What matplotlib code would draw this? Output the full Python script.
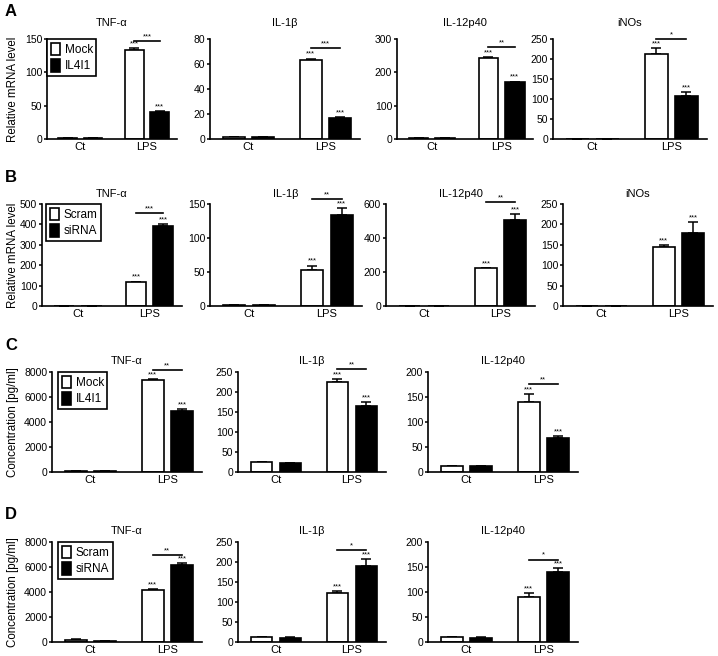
import matplotlib
matplotlib.use("Agg")
from matplotlib import pyplot as plt
from matplotlib.patches import Patch

plt.rcParams['font.family'] = ['Liberation Sans', 'DejaVu Sans']

groups = ["Ct", "LPS"]

# row A: Mock vs IL4I1, relative mRNA
a_titles = ["TNF-α", "IL-1β", "IL-12p40", "iNOs"]
a_white = [[1, 133], [1.5, 63], [2, 243], [1, 212]]
a_white_err = [[0, 3.5], [0, 1.4], [0, 3], [0, 15]]
a_black = [[1, 40.5], [1.5, 17], [2, 170.5], [1, 108.5]]
a_black_err = [[0, 1], [0, 0.4], [0, 2], [0, 10]]
a_ymax = [150, 80, 300, 250]
a_ystep = [50, 20, 100, 50]
a_bracket = [147.5, 72.5, 275, 251]
a_bracket_lbl = ["***", "***", "**", "*"]

# row B: Scram vs siRNA, relative mRNA
b_titles = ["TNF-α", "IL-1β", "IL-12p40", "iNOs"]
b_white = [[0.5, 118], [1, 53.5], [2, 222.5], [1, 144]]
b_white_err = [[0, 2], [0, 6], [0, 3], [0, 5]]
b_black = [[0.5, 392], [1.5, 133.5], [2, 503], [1, 179]]
b_black_err = [[0, 10], [0, 10], [0, 40], [0, 26]]
b_ymax = [500, 150, 600, 250]
b_ystep = [100, 50, 200, 50]
b_bracket = [455, 157, 610, None]
b_bracket_lbl = ["***", "**", "**", ""]

# row C: Mock vs IL4I1, protein
c_titles = ["TNF-α", "IL-1β", "IL-12p40"]
c_white = [[53, 7390], [24.4, 224], [11.3, 140]]
c_white_err = [[0, 50], [1, 8], [0.5, 16]]
c_black = [[50, 4900], [22.7, 166], [11.3, 69]]
c_black_err = [[0, 140], [1, 10], [0.5, 3.5]]
c_ymax = [8000, 250, 200]
c_ystep = [2000, 50, 50]
c_bracket = [8190, 257, 176]
c_bracket_lbl = ["**", "**", "**"]

# row D: Scram vs siRNA, protein
d_titles = ["TNF-α", "IL-1β", "IL-12p40"]
d_white = [[160, 4130], [12.6, 123], [10, 90]]
d_white_err = [[50, 140], [0.5, 4], [0.5, 8]]
d_black = [[80, 6140], [10.9, 190], [8.7, 141]]
d_black_err = [[10, 190], [0.5, 17], [0.5, 7]]
d_ymax = [8000, 250, 200]
d_ystep = [2000, 50, 50]
d_bracket = [6990, 231, 165]
d_bracket_lbl = ["**", "*", "*"]

W, H = 718, 656
fig = plt.figure(figsize=(W / 100, H / 100), dpi=100)


def add_ax(x0, x1, ytop, ybot):
    return fig.add_axes([x0 / W, 1 - ybot / H, (x1 - x0) / W, (ybot - ytop) / H])


def draw_panel(ax, title, white, werr, black, berr, ymax, ystep, by, blbl, tpad):
    off, bw = 0.19, 0.28
    xs = [0, 1]
    xw = [x - off for x in xs]
    xb = [x + off for x in xs]
    ax.bar(xw, white, bw, color="white", edgecolor="black", linewidth=1.2, zorder=2)
    ax.bar(xb, black, bw, color="black", edgecolor="black", linewidth=1.2, zorder=2)
    ax.errorbar(xw, white, yerr=[[0, 0], werr], fmt="none", ecolor="black",
                elinewidth=1.1, capsize=3.5, capthick=1.1, zorder=1)
    ax.errorbar(xb, black, yerr=[[0, 0], berr], fmt="none", ecolor="black",
                elinewidth=1.1, capsize=3.5, capthick=1.1, zorder=1)
    # stars over the LPS bars
    for x, v, e in [(xw[1], white[1], werr[1]), (xb[1], black[1], berr[1])]:
        ax.annotate("***", (x, v + e), xytext=(0, 0.5), textcoords="offset points",
                    ha="center", va="bottom", fontsize=5.5, annotation_clip=False)
    if by is not None:
        ax.plot([xw[1], xb[1]], [by, by], color="black", lw=1.2, clip_on=False)
        ax.annotate(blbl, ((xw[1] + xb[1]) / 2, by), xytext=(0, 0.5),
                    textcoords="offset points", ha="center", va="bottom", fontsize=5.5,
                    annotation_clip=False)
    ax.set_xlim(-0.5, 1.45)
    ax.set_ylim(0, ymax)
    ax.set_yticks(range(0, ymax + 1, ystep))
    ax.set_xticks(xs)
    ax.set_xticklabels(groups)
    for s in ["top", "right"]:
        ax.spines[s].set_visible(False)
    for s in ["left", "bottom"]:
        ax.spines[s].set_linewidth(1.2)
    ax.tick_params(axis="y", length=2.5, width=1.1, labelsize=7.5, pad=1)
    ax.tick_params(axis="x", length=0, labelsize=8, pad=2)
    ax.set_title(title, fontsize=8, pad=tpad)


def legend(ax, labels, x, y):
    handles = [Patch(facecolor="white", edgecolor="black", linewidth=1.2, label=labels[0]),
               Patch(facecolor="black", edgecolor="black", linewidth=1.2, label=labels[1])]
    leg = ax.legend(handles=handles, loc="upper left", bbox_to_anchor=(x, y),
                    fontsize=8.5, handlelength=0.8, handleheight=1.3, handletextpad=0.4,
                    borderpad=0.3, labelspacing=0.25, fancybox=False, framealpha=1,
                    borderaxespad=0)
    leg.get_frame().set_edgecolor("black")
    leg.get_frame().set_linewidth(1.2)


rows = [
    (a_titles, a_white, a_white_err, a_black, a_black_err, a_ymax, a_ystep, a_bracket, a_bracket_lbl,
     [(47, 177), (210, 360), (397, 533), (553, 707)], (39, 139), 9, "A", 4),
    (b_titles, b_white, b_white_err, b_black, b_black_err, b_ymax, b_ystep, b_bracket, b_bracket_lbl,
     [(42, 182), (210, 362), (386, 535), (563, 713)], (204, 306), 5, "B", 170),
    (c_titles, c_white, c_white_err, c_black, c_black_err, c_ymax, c_ystep, c_bracket, c_bracket_lbl,
     [(52, 202), (238, 386), (428, 578)], (372, 472), 6, "C", 338),
    (d_titles, d_white, d_white_err, d_black, d_black_err, d_ymax, d_ystep, d_bracket, d_bracket_lbl,
     [(52, 202), (238, 386), (428, 578)], (542, 642), 6, "D", 507),
]

row_axes = []
for (titles, wh, whe, bl, ble, ymaxs, ysteps, brs, brl, xpos, (yt, yb), tpad, letter, ly) in rows:
    axs = []
    for i, (x0, x1) in enumerate(xpos):
        ax = add_ax(x0, x1, yt, yb)
        draw_panel(ax, titles[i], wh[i], whe[i], bl[i], ble[i], ymaxs[i], ysteps[i],
                   brs[i], brl[i], tpad)
        axs.append(ax)
    fig.text(5 / W, 1 - ly / H, letter, fontsize=12, fontweight="bold", va="top", ha="left")
    row_axes.append(axs)

# y labels and legends
for axs, lbl, x0, xpix in [(row_axes[0], "Relative mRNA level", 47, 13),
                           (row_axes[1], "Relative mRNA level", 42, 13),
                           (row_axes[2], "Concentration [pg/ml]", 52, 13),
                           (row_axes[3], "Concentration [pg/ml]", 52, 13)]:
    ax = axs[0]
    ax.set_ylabel(lbl, fontsize=8.3, va="center")
    w = ax.get_position().width * W
    ax.yaxis.set_label_coords((xpix - x0) / w, 0.5)

legend(row_axes[0][0], ["Mock", "IL4I1"], 0.0, 1.0)
legend(row_axes[1][0], ["Scram", "siRNA"], 0.03, 1.0)
legend(row_axes[2][0], ["Mock", "IL4I1"], 0.04, 1.0)
legend(row_axes[3][0], ["Scram", "siRNA"], 0.04, 1.0)

fig.savefig("out.png", dpi=100)
